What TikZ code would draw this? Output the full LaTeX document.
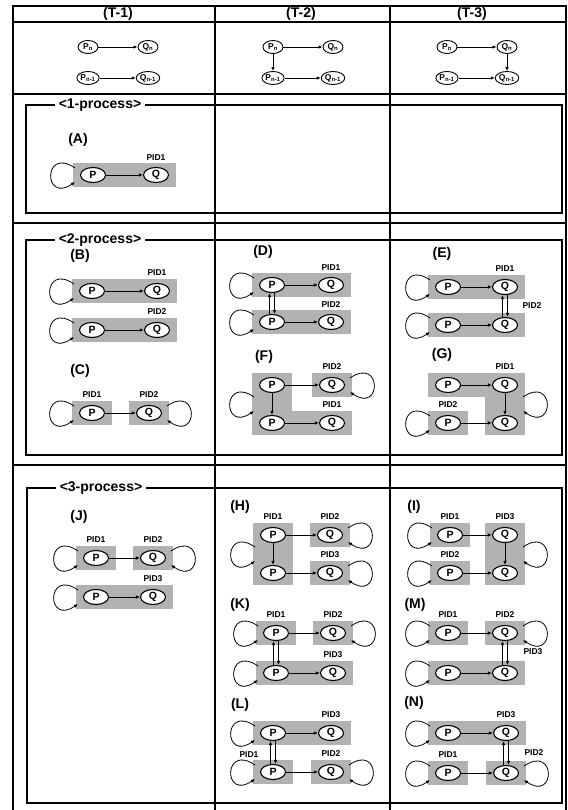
\documentclass[tikz,border=0pt]{standalone}
\usepackage{fontspec}
\setmainfont{Liberation Sans}
\usetikzlibrary{arrows.meta,positioning,shapes.geometric,fit,backgrounds,calc}

\begin{document}
\begin{tikzpicture}[
    x=1pt, y=-1pt,
    on grid,
    node distance=38pt and 57pt,
    proc/.style={ellipse, draw=black, line width=1.1pt, fill=white, inner sep=0pt,
        minimum width=25pt, minimum height=15pt, font=\fontsize{10.5}{10.5}\selectfont\bfseries},
    smallproc/.style={ellipse, draw=black, line width=0.9pt, fill=white, inner sep=0.3pt,
        minimum width=20pt, minimum height=13pt, font=\fontsize{8.5}{8.5}\selectfont\bfseries},
    arrow/.style={-{Latex[length=4pt,width=3.5pt]}, line width=0.8pt},
    lloop/.style={to path={([shift={(-18,-7)}]\tikztostart.center) .. controls +(-32,-22) and +(-32,22) .. ([shift={(-18,7)}]\tikztotarget.center)}},
    rloop/.style={to path={([shift={(18,-7)}]\tikztostart.center) .. controls +(32,-22) and +(32,22) .. ([shift={(18,7)}]\tikztotarget.center)}},
    pbox/.style={fill=black!30, draw=none, inner xsep=7pt, inner ysep=3.5pt},
    pid/.style={font=\fontsize{8.5}{8.5}\selectfont\bfseries},
    caseno/.style={font=\fontsize{14}{14}\selectfont\bfseries},
    head/.style={font=\fontsize{14}{14}\selectfont\bfseries},
    procframe/.style={draw=black, line width=2.3pt},
    framelabel/.style={fill=white, inner xsep=4pt, inner ysep=1pt, font=\fontsize{14}{14}\selectfont\bfseries},
    tableline/.style={draw=black, line width=1.3pt}
]
\useasboundingbox (0,0) rectangle (567,810);

% table
\draw[tableline] (13,810) -- (13,6) -- (566,6) -- (566,810);
\draw[tableline] (215,6) -- (215,810);
\draw[tableline] (390,6) -- (390,810);
\foreach \y in {22,94,223,465}
    \draw[tableline] (13,\y) -- (566,\y);
\node[head] (h1) at (118,14) {(T-1)};
\node[head] (h2) at (301,14) {(T-2)};
\node[head] (h3) at (472,14) {(T-3)};

% (T-1)
\node[smallproc] (t1pn) at (88,47) {P\textsubscript{n}};
\node[smallproc, right=60pt of t1pn] (t1qn) {Q\textsubscript{n}};
\node[smallproc, below=31pt of t1pn] (t1pm) {P\textsubscript{n-1}};
\node[smallproc, right=60pt of t1pm] (t1qm) {Q\textsubscript{n-1}};
\draw[arrow] (t1pn) -- (t1qn);
\draw[arrow] (t1pm) -- (t1qm);

% (T-2)
\node[smallproc] (t2pn) at (273,47) {P\textsubscript{n}};
\node[smallproc, right=60pt of t2pn] (t2qn) {Q\textsubscript{n}};
\node[smallproc, below=31pt of t2pn] (t2pm) {P\textsubscript{n-1}};
\node[smallproc, right=60pt of t2pm] (t2qm) {Q\textsubscript{n-1}};
\draw[arrow] (t2pn) -- (t2qn);
\draw[arrow] (t2pm) -- (t2qm);
\draw[arrow] (t2pn) -- (t2pm);

% (T-3)
\node[smallproc] (t3pn) at (447,47) {P\textsubscript{n}};
\node[smallproc, right=60pt of t3pn] (t3qn) {Q\textsubscript{n}};
\node[smallproc, below=31pt of t3pn] (t3pm) {P\textsubscript{n-1}};
\node[smallproc, right=60pt of t3pm] (t3qm) {Q\textsubscript{n-1}};
\draw[arrow] (t3pn) -- (t3qn);
\draw[arrow] (t3pm) -- (t3qm);
\draw[arrow] (t3qn) -- (t3qm);

% process frames
\draw[procframe] (26,105) rectangle (562,213);
\node[framelabel] (f1) at (100,105) {<1-process>};
\draw[procframe] (26,240) rectangle (562,455);
\node[framelabel] (f2) at (100,240) {<2-process>};
\draw[procframe] (27,488) rectangle (562,803);
\node[framelabel] (f3) at (101,488) {<3-process>};

% (A)
\node[caseno] (la) at (78,140) {(A)};
\node[proc] (a1p) at (93,175) {P};
\node[proc, right=63pt of a1p] (a1q) {Q};
\node[pid, above=17pt of a1q] (a1id) {PID1};
\draw[arrow] (a1p) -- (a1q);
\draw[arrow] (a1p) to[lloop] (a1p);

% (B)
\node[caseno] (lb) at (80,256) {(B)};
\node[proc] (b1p) at (92,291) {P};
\node[proc, right=65pt of b1p] (b1q) {Q};
\node[proc, below=39pt of b1p] (b2p) {P};
\node[proc, right=65pt of b2p] (b2q) {Q};
\node[pid, above=18pt of b1q] (b1id) {PID1};
\node[pid, above=18pt of b2q] (b2id) {PID2};
\draw[arrow] (b1p) -- (b1q);
\draw[arrow] (b2p) -- (b2q);
\draw[arrow] (b1p) to[lloop] (b1p);
\draw[arrow] (b2p) to[lloop] (b2p);

% (C)
\node[caseno] (lc) at (80,371) {(C)};
\node[proc] (cp) at (92,413) {P};
\node[proc, right=of cp] (cq) {Q};
\node[pid, above=18pt of cp] (cpid) {PID1};
\node[pid, above=18pt of cq] (cqid) {PID2};
\draw[arrow] (cp) -- (cq);
\draw[arrow] (cp) to[lloop] (cp);
\draw[arrow] (cq) to[rloop] (cq);

% (D)
\node[caseno] (ld) at (263,252) {(D)};
\node[proc] (d1p) at (272,285) {P};
\node[proc, right=59pt of d1p] (d1q) {Q};
\node[proc, below=37pt of d1p] (d2p) {P};
\node[proc, right=59pt of d2p] (d2q) {Q};
\node[pid, above=17pt of d1q] (d1id) {PID1};
\node[pid, above=17pt of d2q] (d2id) {PID2};
\draw[arrow] (d1p) -- (d1q);
\draw[arrow] (d2p) -- (d2q);
\draw[arrow] ([xshift=-2.5pt]d2p.north) -- ([xshift=-2.5pt]d1p.south);
\draw[arrow] ([xshift=2.5pt]d1p.south) -- ([xshift=2.5pt]d2p.north);
\draw[arrow] (d1p) to[lloop] (d1p);
\draw[arrow] (d2p) to[lloop] (d2p);

% (E)
\node[caseno] (le) at (442,254) {(E)};
\node[proc] (e1p) at (448,287) {P};
\node[proc, right=of e1p] (e1q) {Q};
\node[proc, below=of e1p] (e2p) {P};
\node[proc, right=of e2p] (e2q) {Q};
\node[pid, above=18pt of e1q] (e1id) {PID1};
\node[pid] (e2id) at ($(e1q)!.5!(e2q)+(27,0)$) {PID2};
\draw[arrow] (e1p) -- (e1q);
\draw[arrow] (e2p) -- (e2q);
\draw[arrow] ([xshift=-2.5pt]e2q.north) -- ([xshift=-2.5pt]e1q.south);
\draw[arrow] ([xshift=2.5pt]e1q.south) -- ([xshift=2.5pt]e2q.north);
\draw[arrow] (e1p) to[lloop] (e1p);
\draw[arrow] (e2p) to[lloop] (e2p);

% (F)
\node[caseno] (lf) at (264,357) {(F)};
\node[proc] (f1p) at (272,385) {P};
\node[proc, right=60pt of f1p] (f1q) {Q};
\node[proc, below=of f1p] (f2p) {P};
\node[proc, right=60pt of f2p] (f2q) {Q};
\node[pid, above=18pt of f1q] (f1id) {PID2};
\node[pid, above=18pt of f2q] (f2id) {PID1};
\draw[arrow] (f1p) -- (f1q);
\draw[arrow] (f1p) -- (f2p);
\draw[arrow] (f2p) -- (f2q);
\coordinate (fl) at ($(f1p)!.5!(f2p)$);
\draw[arrow] ([shift={(-18,-7)}]fl) .. controls +(-32,-22) and +(-32,22) .. ([shift={(-18,7)}]fl);
\draw[arrow] (f1q) to[rloop] (f1q);

% (G)
\node[caseno] (lg) at (442,355) {(G)};
\node[proc] (g1p) at (448,385) {P};
\node[proc, right=of g1p] (g1q) {Q};
\node[proc, below=of g1p] (g2p) {P};
\node[proc, right=of g2p] (g2q) {Q};
\node[pid, above=18pt of g1q] (g1id) {PID1};
\node[pid, above=18pt of g2p] (g2id) {PID2};
\draw[arrow] (g1p) -- (g1q);
\draw[arrow] (g1q) -- (g2q);
\draw[arrow] (g2p) -- (g2q);
\coordinate (gr) at ($(g1q)!.5!(g2q)$);
\draw[arrow] (g2p) to[lloop] (g2p);
\draw[arrow] ([shift={(18,-7)}]gr) .. controls +(32,-22) and +(32,22) .. ([shift={(18,7)}]gr);

% (J)
\node[caseno] (lj) at (79,517) {(J)};
\node[proc] (j1p) at (96,558) {P};
\node[proc, right=of j1p] (j1q) {Q};
\node[proc, below=39pt of j1p] (j2p) {P};
\node[proc, right=of j2p] (j2q) {Q};
\node[pid, above=18pt of j1p] (j1pid) {PID1};
\node[pid, above=18pt of j1q] (j1qid) {PID2};
\node[pid, above=18pt of j2q] (j2id) {PID3};
\draw[arrow] (j1p) -- (j1q);
\draw[arrow] (j2p) -- (j2q);
\draw[arrow] (j1p) to[lloop] (j1p);
\draw[arrow] (j1q) to[rloop] (j1q);
\draw[arrow] (j2p) to[lloop] (j2p);

% (H)
\node[caseno] (lh) at (240,507) {(H)};
\node[proc] (h1p) at (273,535) {P};
\node[proc, right=of h1p] (h1q) {Q};
\node[proc, below=of h1p] (h2p) {P};
\node[proc, right=of h2p] (h2q) {Q};
\node[pid, above=18pt of h1p] (h1pid) {PID1};
\node[pid, above=18pt of h1q] (h1qid) {PID2};
\node[pid, above=18pt of h2q] (h2id) {PID3};
\draw[arrow] (h1p) -- (h1q);
\draw[arrow] (h1p) -- (h2p);
\draw[arrow] (h2p) -- (h2q);
\coordinate (hl) at ($(h1p)!.5!(h2p)$);
\draw[arrow] ([shift={(-18,-7)}]hl) .. controls +(-32,-22) and +(-32,22) .. ([shift={(-18,7)}]hl);
\draw[arrow] (h1q) to[rloop] (h1q);
\draw[arrow] (h2q) to[rloop] (h2q);

% (I)
\node[caseno] (li) at (414,507) {(I)};
\node[proc] (i1p) at (450,535) {P};
\node[proc, right=55pt of i1p] (i1q) {Q};
\node[proc, below=of i1p] (i2p) {P};
\node[proc, right=55pt of i2p] (i2q) {Q};
\node[pid, above=18pt of i1p] (i1pid) {PID1};
\node[pid, above=18pt of i1q] (i1qid) {PID3};
\node[pid, above=18pt of i2p] (i2id) {PID2};
\draw[arrow] (i1p) -- (i1q);
\draw[arrow] (i1q) -- (i2q);
\draw[arrow] (i2p) -- (i2q);
\coordinate (ir) at ($(i1q)!.5!(i2q)$);
\draw[arrow] (i1p) to[lloop] (i1p);
\draw[arrow] (i2p) to[lloop] (i2p);
\draw[arrow] ([shift={(18,-7)}]ir) .. controls +(32,-22) and +(32,22) .. ([shift={(18,7)}]ir);

% (K)
\node[caseno] (lk) at (240,605) {(K)};
\node[proc] (k1p) at (276,633) {P};
\node[proc, right=of k1p] (k1q) {Q};
\node[proc, below=40pt of k1p] (k2p) {P};
\node[proc, right=of k2p] (k2q) {Q};
\node[pid, above=18pt of k1p] (k1pid) {PID1};
\node[pid, above=18pt of k1q] (k1qid) {PID2};
\node[pid, above=18pt of k2q] (k2id) {PID3};
\draw[arrow] (k1p) -- (k1q);
\draw[arrow] (k2p) -- (k2q);
\draw[arrow] ([xshift=-2.5pt]k2p.north) -- ([xshift=-2.5pt]k1p.south);
\draw[arrow] ([xshift=2.5pt]k1p.south) -- ([xshift=2.5pt]k2p.north);
\draw[arrow] (k1p) to[lloop] (k1p);
\draw[arrow] (k1q) to[rloop] (k1q);
\draw[arrow] (k2p) to[lloop] (k2p);

% (M)
\node[caseno] (lm) at (415,605) {(M)};
\node[proc] (m1p) at (448,633) {P};
\node[proc, right=of m1p] (m1q) {Q};
\node[proc, below=40pt of m1p] (m2p) {P};
\node[proc, right=of m2p] (m2q) {Q};
\node[pid, above=18pt of m1p] (m1pid) {PID1};
\node[pid, above=18pt of m1q] (m1qid) {PID2};
\node[pid] (m2id) at ($(m1q)!.5!(m2q)+(28,-1)$) {PID3};
\draw[arrow] (m1p) -- (m1q);
\draw[arrow] (m2p) -- (m2q);
\draw[arrow] ([xshift=-2.5pt]m2q.north) -- ([xshift=-2.5pt]m1q.south);
\draw[arrow] ([xshift=2.5pt]m1q.south) -- ([xshift=2.5pt]m2q.north);
\draw[arrow] (m1p) to[lloop] (m1p);
\draw[arrow] (m1q) to[rloop] (m1q);
\draw[arrow] (m2p) to[lloop] (m2p);

% (L)
\node[caseno] (ll) at (240,705) {(L)};
\node[proc] (l1p) at (273,733) {P};
\node[proc, right=58pt of l1p] (l1q) {Q};
\node[proc, below=39pt of l1p] (l2p) {P};
\node[proc, right=58pt of l2p] (l2q) {Q};
\node[pid, above=18pt of l1q] (l1id) {PID3};
\node[pid] (l2pid) at ($(l1p)!.5!(l2p)+(-24,2)$) {PID1};
\node[pid, above=18pt of l2q] (l2qid) {PID2};
\draw[arrow] (l1p) -- (l1q);
\draw[arrow] (l2p) -- (l2q);
\draw[arrow] ([xshift=-2.5pt]l2p.north) -- ([xshift=-2.5pt]l1p.south);
\draw[arrow] ([xshift=2.5pt]l1p.south) -- ([xshift=2.5pt]l2p.north);
\draw[arrow] (l1p) to[lloop] (l1p);
\draw[arrow] (l2p) to[lloop] (l2p);
\draw[arrow] (l2q) to[rloop] (l2q);

% (N)
\node[caseno] (ln) at (414,703) {(N)};
\node[proc] (n1p) at (448,733) {P};
\node[proc, right=58pt of n1p] (n1q) {Q};
\node[proc, below=40pt of n1p] (n2p) {P};
\node[proc, right=58pt of n2p] (n2q) {Q};
\node[pid, above=18pt of n1q] (n1id) {PID3};
\node[pid, above=18pt of n2p] (n2pid) {PID1};
\node[pid] (n2qid) at ($(n1q)!.5!(n2q)+(28,0)$) {PID2};
\draw[arrow] (n1p) -- (n1q);
\draw[arrow] (n2p) -- (n2q);
\draw[arrow] ([xshift=-2.5pt]n2q.north) -- ([xshift=-2.5pt]n1q.south);
\draw[arrow] ([xshift=2.5pt]n1q.south) -- ([xshift=2.5pt]n2q.north);
\draw[arrow] (n1p) to[lloop] (n1p);
\draw[arrow] (n2p) to[lloop] (n2p);
\draw[arrow] (n2q) to[rloop] (n2q);

% process groups
\begin{scope}[on background layer]
\node[pbox, fit=(a1p)(a1q)] (ga) {};
\node[pbox, fit=(b1p)(b1q)] (gb1) {};
\node[pbox, fit=(b2p)(b2q)] (gb2) {};
\node[pbox, fit=(cp)] (gc1) {};
\node[pbox, fit=(cq)] (gc2) {};
\node[pbox, fit=(d1p)(d1q)] (gd1) {};
\node[pbox, fit=(d2p)(d2q)] (gd2) {};
\node[pbox, fit=(e1p)(e1q)] (ge1) {};
\node[pbox, fit=(e2p)(e2q)] (ge2) {};
\node[pbox, fit=(f1p)(f2p)] (gf1) {};
\node[pbox, fit=(f2p)(f2q)] (gf2) {};
\node[pbox, fit=(f1q)] (gf3) {};
\node[pbox, fit=(g1p)(g1q)] (gg1) {};
\node[pbox, fit=(g1q)(g2q)] (gg2) {};
\node[pbox, fit=(g2p)] (gg3) {};
\node[pbox, fit=(j1p)] (gj1) {};
\node[pbox, fit=(j1q)] (gj2) {};
\node[pbox, fit=(j2p)(j2q)] (gj3) {};
\node[pbox, fit=(h1p)(h2p)] (gh1) {};
\node[pbox, fit=(h1q)] (gh2) {};
\node[pbox, fit=(h2q)] (gh3) {};
\node[pbox, fit=(i1p)] (gi1) {};
\node[pbox, fit=(i1q)(i2q)] (gi2) {};
\node[pbox, fit=(i2p)] (gi3) {};
\node[pbox, fit=(k1p)] (gk1) {};
\node[pbox, fit=(k1q)] (gk2) {};
\node[pbox, fit=(k2p)(k2q)] (gk3) {};
\node[pbox, fit=(m1p)] (gm1) {};
\node[pbox, fit=(m1q)] (gm2) {};
\node[pbox, fit=(m2p)(m2q)] (gm3) {};
\node[pbox, fit=(l1p)(l1q)] (gl1) {};
\node[pbox, fit=(l2p)] (gl2) {};
\node[pbox, fit=(l2q)] (gl3) {};
\node[pbox, fit=(n1p)(n1q)] (gn1) {};
\node[pbox, fit=(n2p)] (gn2) {};
\node[pbox, fit=(n2q)] (gn3) {};
\end{scope}
\end{tikzpicture}
\end{document}
